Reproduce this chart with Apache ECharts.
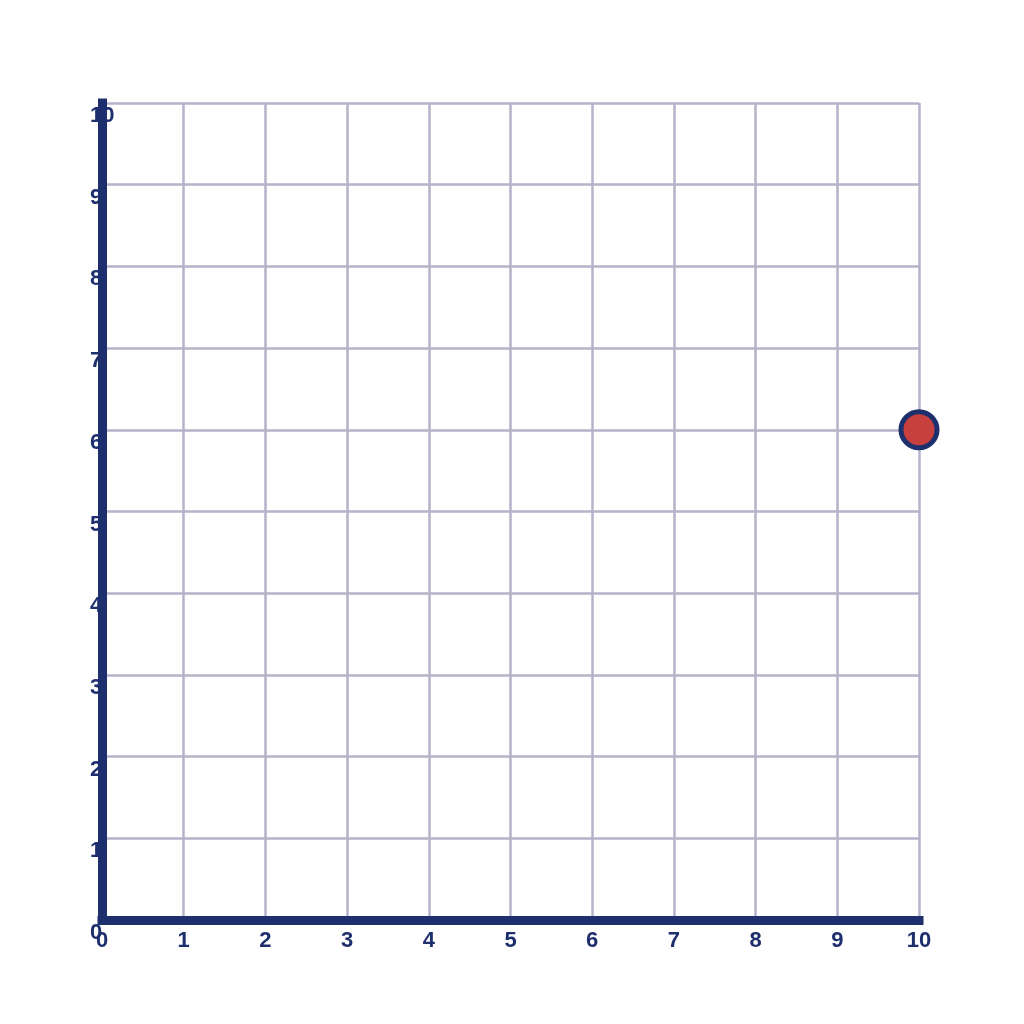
<!DOCTYPE html>
<html>
<head>
<meta charset="utf-8">
<script src="https://cdn.jsdelivr.net/npm/echarts@6/dist/echarts.min.js"></script>
<style>
  html, body { margin: 0; padding: 0; background: #ffffff; }
  #main { width: 1024px; height: 1024px; }
</style>
</head>
<body>
<div id="main"></div>
<script>
// axis ranges and the single plotted point
var xTicks = [0, 10];
var yTicks = [0, 10];
var points = [[10, 6]];

var navy = '#1e2f6e';
var gridColor = '#b5b3ca';
var labelFont = 'Arial';

var chart = echarts.init(document.getElementById('main'));
var option = {
    backgroundColor: '#ffffff',
    animation: false,
    grid: { left: 102, right: 105, top: 103, bottom: 104 },
    xAxis: {
        type: 'value',
        min: xTicks[0],
        max: xTicks[1],
        interval: 1,
        axisLine: { show: true, onZero: false, lineStyle: { color: navy, width: 9, cap: 'square' } },
        axisTick: { show: false },
        splitLine: { show: true, lineStyle: { color: gridColor, width: 2.5 } },
        axisLabel: {
            color: navy, fontSize: 22, fontWeight: 'bold',
            fontFamily: labelFont, margin: 10,
            showMinLabel: true, showMaxLabel: true
        }
    },
    yAxis: {
        type: 'value',
        min: yTicks[0],
        max: yTicks[1],
        interval: 1,
        axisLine: { show: true, onZero: false, lineStyle: { color: navy, width: 9, cap: 'square' } },
        axisTick: { show: false },
        splitLine: { show: true, lineStyle: { color: gridColor, width: 2.5 } },
        axisLabel: {
            color: navy, fontSize: 22, fontWeight: 'bold',
            fontFamily: labelFont,
            align: 'left', verticalAlign: 'top', margin: 12,
            padding: [2, 0, 0, 0],
            showMinLabel: true, showMaxLabel: true
        }
    },
    series: [{
        type: 'scatter',
        data: points,
        symbol: 'circle',
        symbolSize: 36,
        itemStyle: { color: '#c8403d', borderColor: navy, borderWidth: 5, opacity: 1 },
        z: 10
    }]
};
chart.setOption(option);
</script>
</body>
</html>
